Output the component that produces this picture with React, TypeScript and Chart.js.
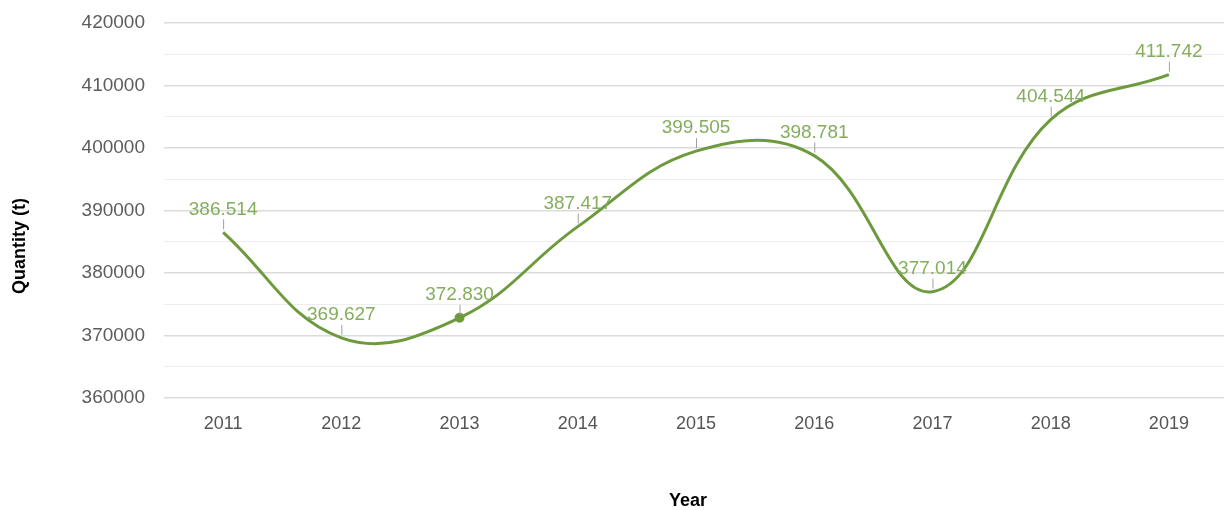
import React, { useEffect, useRef } from "react";
import { Chart, registerables } from "chart.js";

Chart.register(...registerables);

const years = ["2011", "2012", "2013", "2014", "2015", "2016", "2017", "2018", "2019"];
const quantities = [386514, 369627, 372830, 387417, 399505, 398781, 377014, 404544, 411742];
const valueLabels = ["386.514", "369.627", "372.830", "387.417", "399.505", "398.781", "377.014", "404.544", "411.742"];
const yMin = 360000;
const yMax = 420000;
const yStep = 5000;
const yLabelStep = 10000;
const yTitle = "Quantity (t)";
const xTitle = "Year";

const LINE_COLOR = "#6c9a3c";
const LABEL_COLOR = "#84ae5e";
const FONT = "'Liberation Sans', Arial, sans-serif";

const labelPlugin = {
  id: "valueLabels",
  afterDatasetsDraw(chart: any) {
    const ctx = chart.ctx;
    const meta = chart.getDatasetMeta(0);
    ctx.save();
    meta.data.forEach((pt: any, i: number) => {
      const x = pt.x;
      const y = pt.y;
      ctx.strokeStyle = "#a0a0a0";
      ctx.lineWidth = 1;
      ctx.beginPath();
      ctx.moveTo(x + 0.5, y - 13);
      ctx.lineTo(x + 0.5, y - 3);
      ctx.stroke();
      ctx.font = `19px ${FONT}`;
      ctx.fillStyle = LABEL_COLOR;
      ctx.textAlign = "center";
      ctx.textBaseline = "middle";
      ctx.fillText(valueLabels[i], x, y - 23);
    });
    ctx.restore();
  },
};

const titlePlugin = {
  id: "axisTitles",
  afterDraw(chart: any) {
    const ctx = chart.ctx;
    ctx.save();
    ctx.font = `bold 18px ${FONT}`;
    ctx.fillStyle = "#000";
    ctx.textAlign = "center";
    ctx.textBaseline = "middle";
    ctx.fillText(xTitle, 688, 501);
    ctx.translate(20, 246);
    ctx.rotate(-Math.PI / 2);
    ctx.fillText(yTitle, 0, 0);
    ctx.restore();
  },
};

export default function App() {
  const ref = useRef<HTMLCanvasElement>(null);
  useEffect(() => {
    document.body.style.overflow = "hidden";
    const chart = new Chart(ref.current!, {
      type: "line",
      data: {
        labels: years,
        datasets: [
          {
            data: quantities,
            borderColor: LINE_COLOR,
            backgroundColor: LINE_COLOR,
            borderWidth: 3,
            tension: 0.4,
            pointRadius: quantities.map((_, i) => (i === 2 ? 3.5 : 0)),
            pointHoverRadius: 0,
            fill: false,
          },
        ],
      },
      options: {
        animation: false,
        responsive: false,
        layout: { padding: { top: 23, right: 0, left: 0, bottom: 0 } },
        plugins: {
          legend: { display: false },
          tooltip: { enabled: false },
        },
        events: [],
        scales: {
          x: {
            offset: true,
            grid: { display: false },
            border: { display: false },
            ticks: {
              color: "#555",
              font: { family: FONT, size: 18 },
              padding: 7,
              maxRotation: 0,
            },
            afterFit: (s: any) => {
              s.height = 112;
              s.paddingLeft = 0;
              s.paddingRight = 0;
            },
          },
          y: {
            min: yMin,
            max: yMax,
            border: { display: false },
            grid: {
              drawTicks: false,
              color: (c: any) => (c.tick && c.tick.value % yLabelStep === 0 ? "#dcdcdc" : "#eeeeee"),
              lineWidth: (c: any) => (c.tick && c.tick.value % yLabelStep === 0 ? 1.5 : 1),
            },
            ticks: {
              stepSize: yStep,
              color: "#5c5c5c",
              padding: 19,
              font: { family: FONT, size: 19 },
              callback: (v: any) => (Number(v) % yLabelStep === 0 ? String(v) : ""),
            },
            afterFit: (s: any) => {
              s.width = 164;
              s.paddingTop = 0;
              s.paddingBottom = 0;
            },
          },
        },
      },
      plugins: [labelPlugin, titlePlugin],
    });
    return () => chart.destroy();
  }, []);
  return (
    <div style={{ position: "fixed", left: 0, top: 0, width: 1228, height: 510, background: "#fff" }}>
      <canvas ref={ref} width={1228} height={510} />
    </div>
  );
}
